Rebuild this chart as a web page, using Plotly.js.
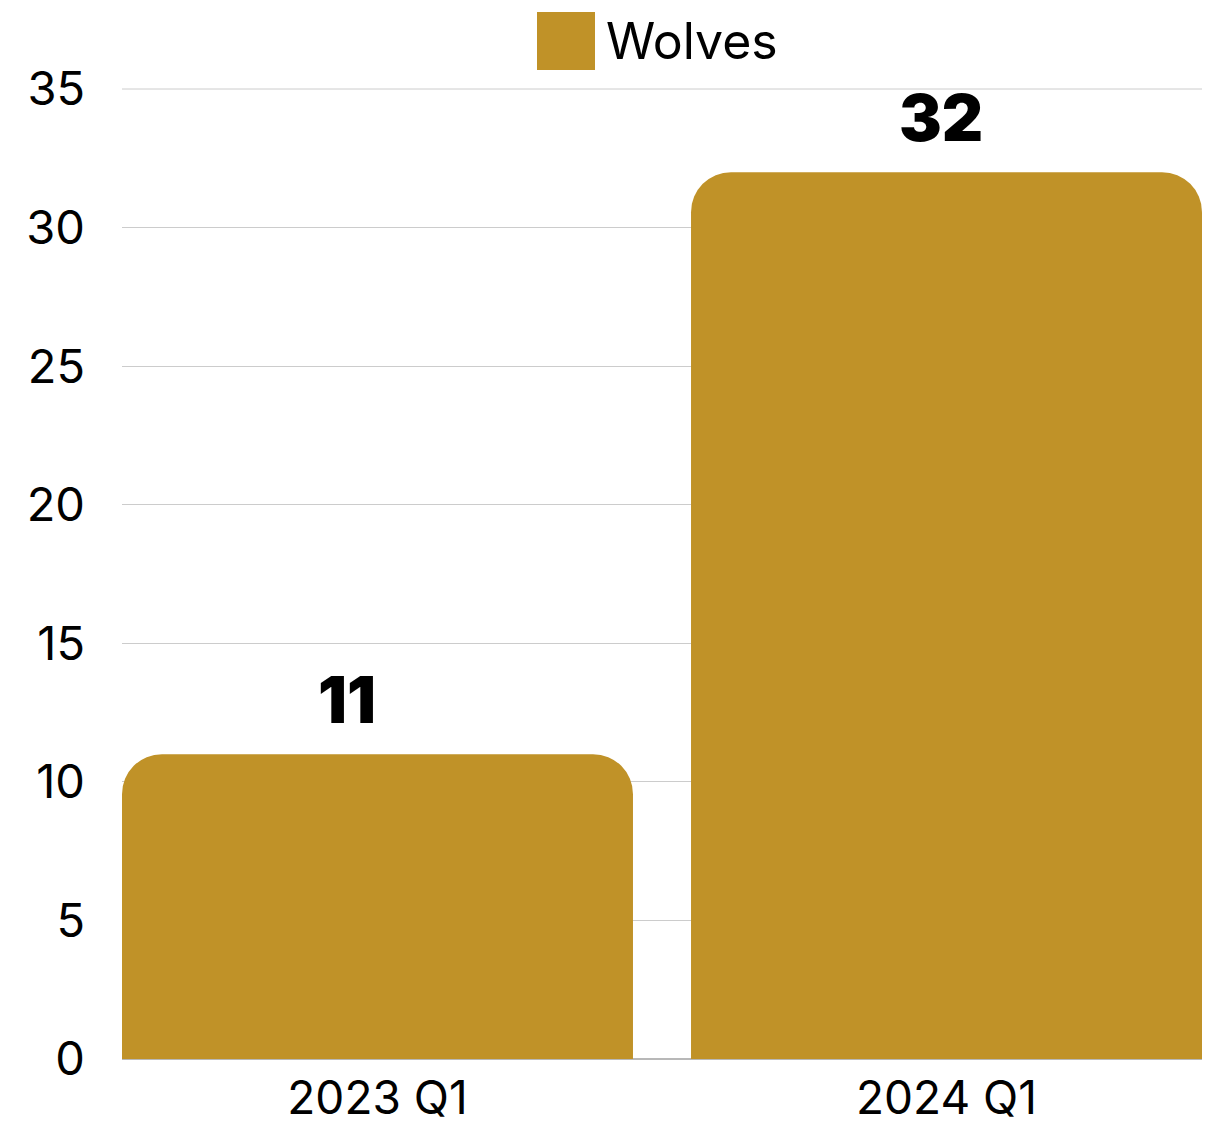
<!DOCTYPE html>
<html>
<head>
<meta charset="utf-8">
<script src="https://cdn.plot.ly/plotly-3.0.1.min.js"></script>
<style>html,body{margin:0;padding:0;background:#fff;}#chart{width:1217px;height:1124px;}</style>
</head>
<body>
<div id="chart"></div>
<script>
const categories = ["2023 Q1", "2024 Q1"];
const wolves = [11, 32];
const seriesName = "Wolves";
const yTicks = [0, 5, 10, 15, 20, 25, 30, 35];

const color = "#C09228";
const fontFam = "Inter, 'Open Sans', sans-serif";
const labelXShift = [-30, -6];

const trace = {
  type: "bar",
  x: categories,
  y: wolves,
  name: seriesName,
  marker: {color: color, cornerradius: 40},
  hoverinfo: "none",
  showlegend: false
};

const labels = categories.map((c, i) => ({
  x: c, y: wolves[i], xref: "x", yref: "y",
  text: String(wolves[i]), showarrow: false,
  yanchor: "bottom", yshift: 14, xshift: labelXShift[i],
  font: {family: fontFam, size: 64, color: "#000", weight: 900}
}));

const edgeGrid = [
  {y: 1, color: "#cccccc", width: 1},
  {y: 0, color: "#b8b8b8", width: 2}
].map(g => ({
  type: "line", xref: "paper", yref: "paper", layer: "below",
  x0: 0, x1: 1, y0: g.y, y1: g.y,
  line: {color: g.color, width: g.width}
}));

const layout = {
  width: 1217, height: 1124,
  margin: {l: 122, r: 15, t: 89, b: 65},
  paper_bgcolor: "#fff", plot_bgcolor: "#fff",
  font: {family: fontFam, color: "#000"},
  bargap: 0.102,
  xaxis: {
    type: "category",
    range: [-0.449, 1.449],
    tickfont: {size: 46, family: fontFam},
    showgrid: false, showline: false, ticks: "",
    zeroline: false, ticklabelstandoff: 8
  },
  yaxis: {
    range: [0, 35],
    tickvals: yTicks,
    ticktext: yTicks.map(String),
    tickfont: {size: 47, family: fontFam},
    showgrid: true, gridcolor: "#cccccc", gridwidth: 1,
    zeroline: false,
    showline: false, ticks: "", ticklabelstandoff: 36
  },
  shapes: edgeGrid.concat([{
    type: "rect", xref: "paper", yref: "paper",
    x0: (537 - 122) / 1080, x1: (595 - 122) / 1080,
    y0: 1 + (89 - 70) / 970, y1: 1 + (89 - 12) / 970,
    fillcolor: color, line: {width: 0}
  }]),
  annotations: labels.concat([{
    xref: "paper", yref: "paper",
    x: (604 - 122) / 1080, y: 1 + (89 - 41) / 970,
    xanchor: "left", yanchor: "middle",
    text: seriesName, showarrow: false,
    font: {family: fontFam, size: 50, color: "#000"}
  }])
};

Plotly.newPlot("chart", [trace], layout, {displayModeBar: false, staticPlot: true});
</script>
</body>
</html>
